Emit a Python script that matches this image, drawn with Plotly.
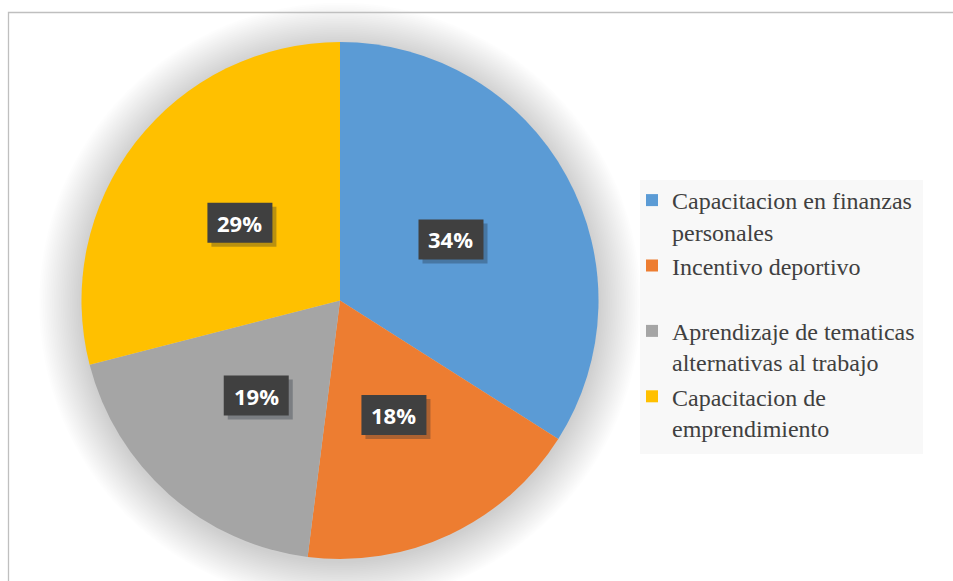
import math
import plotly.graph_objects as go

# Survey results: preferred type of benefit
categories = [
    "Capacitacion en finanzas<br>personales",
    "Incentivo deportivo<br> ",
    "Aprendizaje de tematicas<br>alternativas al trabajo",
    "Capacitacion de<br>emprendimiento",
]
values = [34, 18, 19, 29]
colors = ["#5B9BD5", "#ED7D31", "#A5A5A5", "#FFC000"]

W, H = 953, 581
CX, CY, R = 340, 300.5, 258.5  # pie centre / radius in px


def px_x(x):
    return x / W


def px_y(y):
    return (H - y) / H


fig = go.Figure()
fig.add_trace(go.Pie(
    labels=categories,
    values=values,
    marker=dict(colors=colors, line=dict(width=0)),
    sort=False,
    direction="clockwise",
    rotation=0,
    textinfo="none",
    hoverinfo="label+percent",
    domain=dict(x=[px_x(CX - R), px_x(CX + R)],
                y=[px_y(CY + R), px_y(CY - R)]),
))

shapes = []
# soft shadow around the pie
for i in range(24):
    r = R + 1 + i * 1.8
    shapes.append(dict(
        type="circle", xref="paper", yref="paper", layer="below",
        x0=px_x(CX - r), x1=px_x(CX + r),
        y0=px_y(CY + 3 + r), y1=px_y(CY + 3 - r),
        fillcolor="rgba(0,0,0,0.009)", line=dict(width=0),
    ))
# chart area frame
shapes.append(dict(
    type="rect", xref="paper", yref="paper", layer="below",
    x0=px_x(8.5), x1=1.02, y0=-0.02, y1=px_y(12.5),
    line=dict(color="#BFBFBF", width=1.3), fillcolor="rgba(0,0,0,0)",
))
# legend panel
shapes.append(dict(
    type="rect", xref="paper", yref="paper", layer="below",
    x0=px_x(640), x1=px_x(923), y0=px_y(454), y1=px_y(180),
    line=dict(width=0), fillcolor="#F8F8F8",
))

# percentage labels placed at the middle angle of each slice
annotations = []
total = sum(values)
cum = 0.0
BW, BH = 65, 40
for v in values:
    mid = (cum + v / 2) / total * 2 * math.pi
    cum += v
    rr = 0.49 * R
    lx = CX + rr * math.sin(mid)
    ly = CY - rr * math.cos(mid)
    # drop shadow, then the dark label box
    for dx, dy, col in ((4, 4, "rgba(25,35,50,0.30)"), (0, 0, "#404040")):
        shapes.append(dict(
            type="rect", xref="paper", yref="paper", layer="above",
            x0=px_x(lx - BW / 2 + dx), x1=px_x(lx + BW / 2 + dx),
            y0=px_y(ly + BH / 2 + dy), y1=px_y(ly - BH / 2 + dy),
            fillcolor=col, line=dict(width=0),
        ))
    annotations.append(dict(
        xref="paper", yref="paper", x=px_x(lx), y=px_y(ly),
        showarrow=False, xanchor="center", yanchor="middle",
        text=f"<b>{round(v / total * 100)}%</b>",
        font=dict(family="Open Sans", size=22, color="white"),
    ))

fig.update_layout(
    width=W, height=H,
    margin=dict(l=0, r=0, t=0, b=0),
    paper_bgcolor="white",
    shapes=shapes,
    annotations=annotations,
    showlegend=True,
    legend=dict(
        x=px_x(632), y=px_y(178), xanchor="left", yanchor="top",
        bgcolor="rgba(0,0,0,0)",
        font=dict(family="Liberation Serif", size=24, color="#404040"),
        valign="top",
        tracegroupgap=0,
        itemwidth=30,
    ),
)

fig.write_html("out.html")
